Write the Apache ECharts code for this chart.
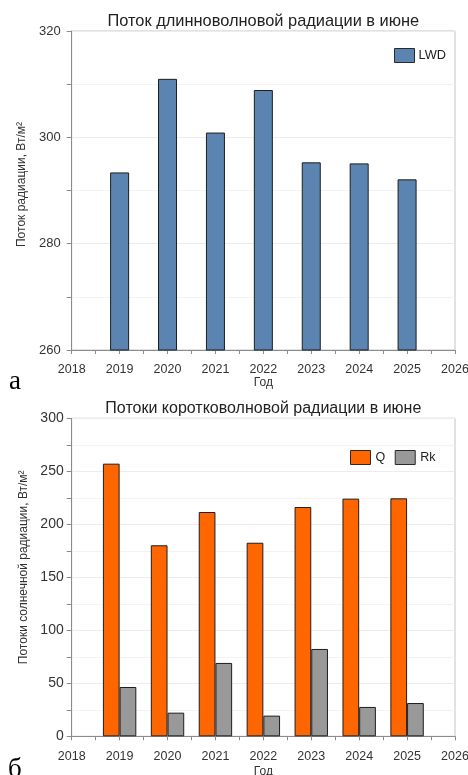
<!DOCTYPE html>
<html>
<head>
<meta charset="utf-8">
<script src="https://cdn.jsdelivr.net/npm/echarts@6/dist/echarts.min.js"></script>
<style>
  html, body { margin: 0; padding: 0; background: #fff; }
  #chart { width: 468px; height: 775px; }
</style>
</head>
<body>
<div id="chart"></div>
<script>
// Годы наблюдений
const years = [2019, 2020, 2021, 2022, 2023, 2024, 2025];
// Длинноволновая радиация (LWD), Вт/м²
const lwd = [293.4, 311.0, 300.9, 308.9, 295.3, 295.1, 292.1];
// Суммарная коротковолновая радиация (Q), Вт/м²
const q = [257.2, 180.2, 211.6, 182.6, 216.3, 224.2, 224.5];
// Отражённая радиация (Rk), Вт/м²
const rk = [46.5, 22.3, 69.2, 19.5, 82.4, 27.7, 31.4];
// Диапазоны осей
const yearRange = [2018, 2026];
const lwdRange = [260, 320, 20];
const swRange = [0, 300, 50];

const FONT = '"Liberation Sans", Arial, sans-serif';
const titleTop = 'Поток длинноволновой радиации в июне';
const titleBottom = 'Потоки коротковолновой радиации в июне';

const gridLeft = 71.7, gridRight = 13;
const plotCenter = gridLeft + (468 - gridLeft - gridRight) / 2;

function textWidth(str, size) {
  const ctx = document.createElement('canvas').getContext('2d');
  ctx.font = size + 'px ' + FONT;
  return ctx.measureText(str).width;
}

const axisGrey = '#8c8c8c';
const gridGrey = '#ececec';

function yearAxis(gi, margin, nameGap) {
  return {
    type: 'value', gridIndex: gi, min: yearRange[0], max: yearRange[1], interval: 1,
    axisLine: { show: true, onZero: false, lineStyle: { color: axisGrey } },
    axisTick: { show: true, length: 4, lineStyle: { color: axisGrey } },
    minorTick: { show: true, splitNumber: 2, length: 4, lineStyle: { color: axisGrey } },
    splitLine: { show: false },
    axisLabel: { fontSize: 12.5, color: '#333', margin: margin, fontFamily: FONT, formatter: v => String(v) },
    name: 'Год', nameLocation: 'middle', nameGap: nameGap,
    nameTextStyle: { fontSize: 12, color: '#333', fontFamily: FONT }
  };
}

function valueAxis(gi, range, labelSize, margin, name, nameGap, namePad) {
  return {
    type: 'value', gridIndex: gi, min: range[0], max: range[1], interval: range[2],
    axisLine: { show: true, lineStyle: { color: axisGrey } },
    axisTick: { show: true, length: 5, lineStyle: { color: axisGrey } },
    minorTick: { show: true, splitNumber: 2, length: 5, lineStyle: { color: axisGrey } },
    splitLine: { show: true, lineStyle: { color: gridGrey } },
    minorSplitLine: { show: true, lineStyle: { color: '#f3f3f3' } },
    axisLabel: { fontSize: labelSize, color: '#333', margin: margin, fontFamily: FONT },
    name: name, nameLocation: 'middle', nameGap: nameGap,
    nameTextStyle: { fontSize: 12, color: '#333', fontFamily: FONT, padding: namePad }
  };
}

const chart = echarts.init(document.getElementById('chart'), null, { renderer: 'canvas' });

const option = {
  animation: false,
  backgroundColor: '#fff',
  title: [
    {
      text: titleTop, top: 13, padding: 0,
      left: plotCenter - textWidth(titleTop, 16.4) / 2,
      textStyle: { fontSize: 16.4, fontWeight: 'normal', color: '#222', fontFamily: FONT }
    },
    {
      text: titleBottom, top: 400.5, padding: 0,
      left: plotCenter - textWidth(titleBottom, 16) / 2,
      textStyle: { fontSize: 16, fontWeight: 'normal', color: '#222', fontFamily: FONT }
    }
  ],
  legend: [
    {
      data: ['LWD'], left: 394, top: 48, padding: 0, itemWidth: 20, itemHeight: 14,
      icon: 'rect', itemGap: 10,
      itemStyle: { borderColor: '#2a2a2a', borderWidth: 1 },
      textStyle: { fontSize: 12.8, color: '#222', fontFamily: FONT, padding: [0, 0, 0, -1] }
    },
    {
      data: ['Q', 'Rk'], left: 350, top: 450, padding: 0, itemWidth: 20, itemHeight: 14,
      icon: 'rect', itemGap: 9.5,
      itemStyle: { borderColor: '#2a2a2a', borderWidth: 1 },
      textStyle: { fontSize: 12.5, color: '#222', fontFamily: FONT }
    }
  ],
  grid: [
    { left: gridLeft, right: gridRight, top: 31, height: 319, outerBoundsMode: 'none', containLabel: false, show: true, borderColor: '#c4c4c4', borderWidth: 1, backgroundColor: 'transparent' },
    { left: gridLeft, right: gridRight, top: 418.3, height: 318, outerBoundsMode: 'none', containLabel: false, show: true, borderColor: '#c4c4c4', borderWidth: 1, backgroundColor: 'transparent' }
  ],
  xAxis: [yearAxis(0, 13, 27), yearAxis(1, 14, 29)],
  yAxis: [
    valueAxis(0, lwdRange, 13, 11, 'Поток радиации, Вт/м²', 38, [0, 0, 0, 12]),
    valueAxis(1, swRange, 14, 8, 'Потоки солнечной радиации, Вт/м²', 38, [0, 0, 0, 20])
  ],
  series: [
    {
      type: 'bar', name: 'LWD', xAxisIndex: 0, yAxisIndex: 0,
      data: years.map((y, i) => [y, lwd[i]]),
      barWidth: 19,
      itemStyle: { color: '#5b84b1', borderColor: '#1e1e1e', borderWidth: 1 }
    },
    {
      type: 'bar', name: 'Q', xAxisIndex: 1, yAxisIndex: 1,
      data: years.map((y, i) => [y, q[i]]),
      barWidth: 16.7, barGap: '0%',
      itemStyle: { color: '#ff6600', borderColor: '#1e1e1e', borderWidth: 1 }
    },
    {
      type: 'bar', name: 'Rk', xAxisIndex: 1, yAxisIndex: 1,
      data: years.map((y, i) => [y, rk[i]]),
      barWidth: 16.7, barGap: '0%',
      itemStyle: { color: '#999999', borderColor: '#1e1e1e', borderWidth: 1 }
    }
  ],
  graphic: [
    { type: 'text', left: 9, top: 368, style: { text: 'а', fontSize: 27, fontFamily: '"Liberation Serif", "Times New Roman", serif', fill: '#000' } },
    { type: 'text', left: 8, top: 756, style: { text: 'б', fontSize: 27, fontFamily: '"Liberation Serif", "Times New Roman", serif', fill: '#000' } }
  ]
};

chart.setOption(option);
</script>
</body>
</html>
